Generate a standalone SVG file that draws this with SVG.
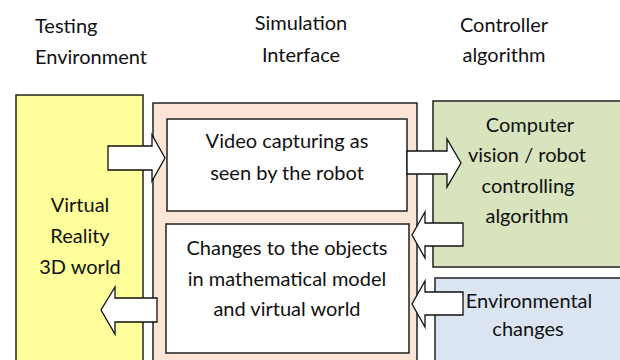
<svg xmlns="http://www.w3.org/2000/svg" width="620" height="360" viewBox="0 0 620 360">
<style>
  text { font-family: Lato, "Open Sans", "Liberation Sans", sans-serif; font-size: 20px; fill: #111; text-anchor: middle; }
  .box { stroke: #222; stroke-width: 1.5; }
  .arrow { fill: #fff; stroke: #111; stroke-width: 1.3; stroke-linejoin: miter; }
</style>
<rect width="620" height="360" fill="#fff"/>
<g id="headers">
  <text x="35" y="33" style="text-anchor:start">Testing</text>
  <text x="35" y="64" style="text-anchor:start">Environment</text>
  <text x="301" y="30">Simulation</text>
  <text x="301" y="62">Interface</text>
  <text x="504" y="32">Controller</text>
  <text x="504" y="62">algorithm</text>
</g>
<g id="testing-environment">
  <rect class="box" x="16" y="95" width="127" height="280" fill="#fefe9a"/>
  <text x="80" y="212">Virtual</text>
  <text x="80" y="243">Reality</text>
  <text x="80" y="274">3D world</text>
</g>
<g id="simulation-interface">
  <rect class="box" x="153" y="103" width="264" height="280" fill="#fce5d6"/>
</g>
<g id="video-capturing">
  <rect class="box" x="167" y="119" width="240" height="92" fill="#fff"/>
  <text x="287" y="148">Video capturing as</text>
  <text x="287" y="180">seen by the robot</text>
</g>
<g id="changes-objects">
  <rect class="box" x="166" y="224" width="243" height="129" fill="#fff"/>
  <text x="287" y="255">Changes to the objects</text>
  <text x="287" y="286">in mathematical model</text>
  <text x="287" y="316">and virtual world</text>
</g>
<g id="controller">
  <rect class="box" x="433" y="101" width="200" height="166" fill="#d7e4bd"/>
  <text x="530" y="132">Computer</text>
  <text x="527" y="162">vision / robot</text>
  <text x="528" y="193">controlling</text>
  <text x="527" y="223">algorithm</text>
</g>
<g id="environmental-changes">
  <rect class="box" x="435" y="278" width="200" height="100" fill="#dbe5f1"/>
  <text x="529" y="308">Environmental</text>
  <text x="528" y="336">changes</text>
</g>
<g id="connectors">
  <path class="arrow" d="M108,146 H152 V135 L165,158 L152,181 V170 H108 Z"/>
  <path class="arrow" d="M157,298 H115 V287 L101,310 L115,334 V322 H157 Z"/>
  <path class="arrow" d="M407,151 H447 V139 L461,163 L447,187 V174 H407 Z"/>
  <path class="arrow" d="M463,223 H425 V212 L412,235 L425,258 V246 H463 Z"/>
  <path class="arrow" d="M463,292 H425 V281 L412,304 L425,327 V315 H463 Z"/>
</g>
</svg>
